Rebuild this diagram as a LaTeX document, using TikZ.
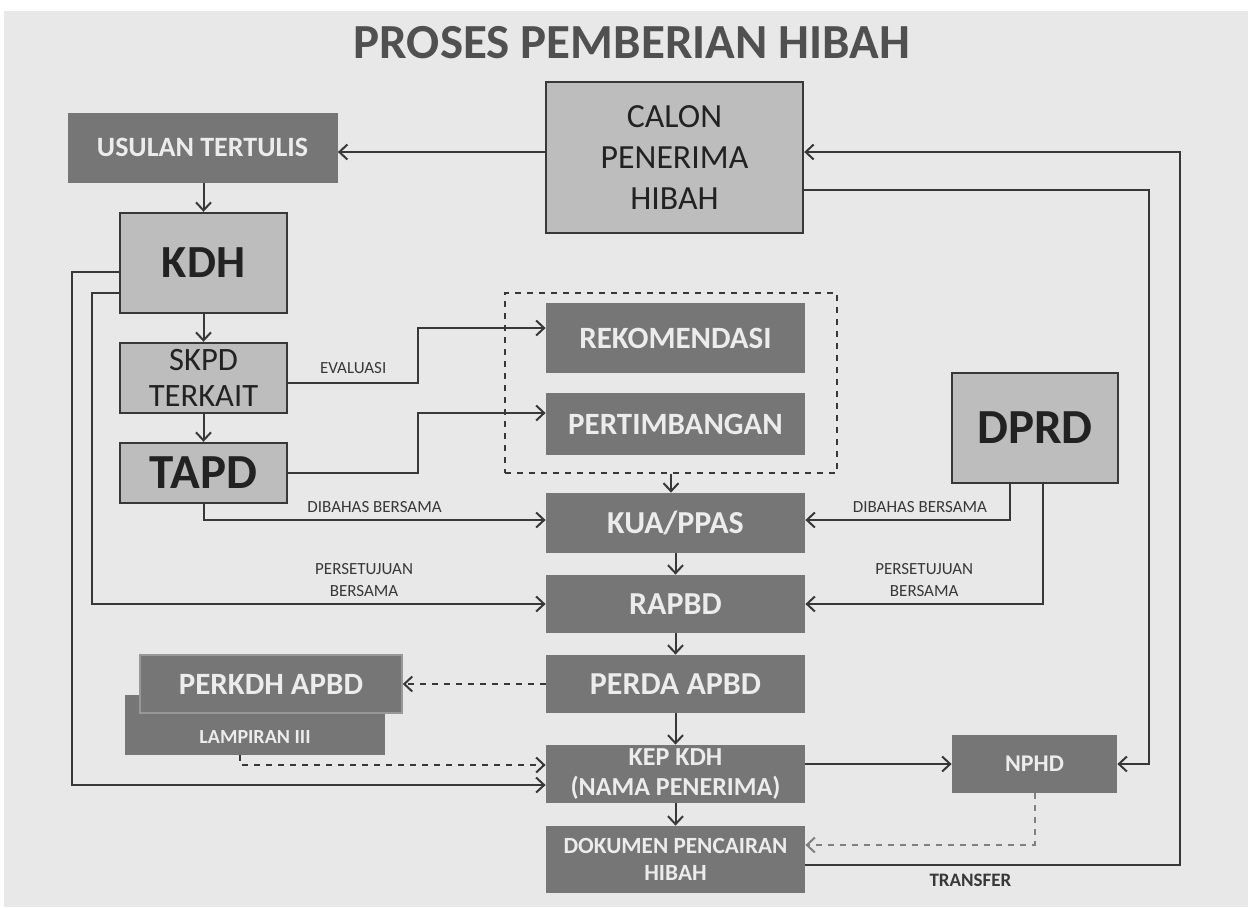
\documentclass[tikz,border=0pt]{standalone}
\usepackage{fontspec}
\setmainfont{Carlito}
\usetikzlibrary{arrows.meta}
\definecolor{bgcol}{HTML}{E8E8E8}
\definecolor{boxdark}{HTML}{767676}
\definecolor{boxlight}{HTML}{BDBDBD}
\definecolor{boxtext}{HTML}{ECECEC}
\definecolor{textdark}{HTML}{222222}
\definecolor{linecol}{HTML}{383838}
\definecolor{titlecol}{HTML}{505050}
\newcommand{\fsz}[2]{\fontsize{#1}{#2}\selectfont}
\tikzset{
  darkbox/.style={fill=boxdark, text=boxtext, inner sep=0pt, align=center},
  lightbox/.style={fill=boxlight, draw=linecol, line width=1.2pt, text=textdark, inner sep=0pt, align=center},
  sz/.style 2 args={minimum width=#1*0.5pt, minimum height=#2*0.5pt},
  link/.style={draw=linecol, line width=1pt, -{Straight Barb[length=4pt, width=7.5pt]}},
  dlink/.style={link, dashed},
  lbl/.style={font=\fsz{8.5}{11}, text=linecol, align=center, inner sep=1pt}
}

\begin{document}
\begin{tikzpicture}[x=0.5pt, y=-0.5pt]
\useasboundingbox (0,0) rectangle (1248,907);
\fill[white] (0,0) rectangle (1248,907);
\fill[bgcol] (4,11) rectangle (1248,907);
\node[font=\fsz{24.5}{27}\bfseries, text=titlecol] (title) at (632,43) {PROSES PEMBERIAN HIBAH};
% left column
\node[darkbox, sz={270}{70}, font=\fsz{14}{16}\bfseries] (usulan) at (202.5,147.5) {USULAN TERTULIS};
\node[lightbox, sz={167}{100}, font=\fsz{23}{25}\bfseries] (kdh) at (203.5,263) {KDH};
\node[lightbox, sz={167}{70}, font=\fsz{16.3}{18}] (skpd) at (203.5,378) {SKPD\\TERKAIT};
\node[lightbox, sz={167}{60}, font=\fsz{24.5}{26}\bfseries] (tapd) at (203.5,473) {TAPD};
\node[darkbox, sz={260}{60}, font=\fsz{10}{11}\bfseries, text height=18pt, text depth=0pt] (lampiran) at (255,725) {LAMPIRAN III};
\node[darkbox, sz={262}{58}, draw=boxdark!70!bgcol, line width=0.8pt, font=\fsz{15.5}{18}\bfseries] (perkdh) at (271,684) {PERKDH APBD};
% middle column
\node[lightbox, sz={257}{151}, font=\fsz{16.9}{20.5}] (calon) at (674.5,157.5) {CALON\\PENERIMA\\HIBAH};
\node[draw=linecol, dashed, line width=1pt, sz={332}{180}] (frame) at (671,383) {};
\node[darkbox, sz={259}{70}, font=\fsz{15.5}{18}\bfseries] (rekom) at (675.5,338) {REKOMENDASI};
\node[darkbox, sz={259}{62}, font=\fsz{15.5}{18}\bfseries] (pertim) at (675.5,424) {PERTIMBANGAN};
\node[darkbox, sz={259}{60}, font=\fsz{16}{18}\bfseries] (kua) at (675.5,523) {KUA/PPAS};
\node[darkbox, sz={259}{58}, font=\fsz{16}{18}\bfseries] (rapbd) at (675.5,604) {RAPBD};
\node[darkbox, sz={259}{58}, font=\fsz{16}{18}\bfseries] (perda) at (675.5,684) {PERDA APBD};
\node[darkbox, sz={259}{58}, font=\fsz{13}{15}\bfseries] (kep) at (675.5,774) {KEP KDH\\(NAMA PENERIMA)};
\node[darkbox, sz={259}{67}, font=\fsz{11.6}{13.5}\bfseries] (dokumen) at (675.5,859.5) {DOKUMEN PENCAIRAN\\HIBAH};
% right column
\node[lightbox, sz={166}{110}, font=\fsz{24.5}{26}\bfseries] (dprd) at (1035,428) {DPRD};
\node[darkbox, sz={165}{58}, font=\fsz{12}{14}\bfseries] (nphd) at (1034.5,764) {NPHD};

% connectors
\draw[link] ([yshift=2.75pt]calon.west) -- ([yshift=2.75pt]calon.west -| usulan.east);
\draw[link] (kdh.north |- usulan.south) -- (kdh.north);
\draw[link] (kdh.south) -- (skpd.north);
\draw[link] (skpd.south) -- (tapd.north);
\draw[link] ([yshift=-2.5pt]skpd.east) -- node[lbl, above=3pt]{EVALUASI} ++(130,0) |- ([yshift=5pt]rekom.west);
\draw[link] (tapd.east) -- ++(130,0) |- ([yshift=5.5pt]pertim.west);
\draw[link] (frame.south) -- (frame.south |- kua.north);
\draw[link] (tapd.south) |- node[lbl, pos=0.75, above=2pt]{DIBAHAS BERSAMA} ([yshift=1.5pt]kua.west);
\draw[link] ([yshift=-15pt]kdh.west) -- ++(-27,0) |- node[lbl, pos=0.8, above=2pt]{PERSETUJUAN\\BERSAMA} (rapbd.west);
\draw[link] ([yshift=-4.5pt]kdh.west) -- ++(-47,0) |- ([yshift=-5.5pt]kep.west);
\draw[link] ([xshift=-12.5pt]dprd.south) |- node[lbl, pos=0.72, above=2pt]{DIBAHAS BERSAMA} ([yshift=1.5pt]kua.east);
\draw[link] ([xshift=4pt]dprd.south) |- node[lbl, pos=0.75, above=2pt]{PERSETUJUAN\\BERSAMA} (rapbd.east);
\draw[link] (kua.south) -- (rapbd.north);
\draw[link] (rapbd.south) -- (perda.north);
\draw[link] (perda.south) -- (kep.north);
\draw[link] (kep.south) -- (dokumen.north);
\draw[dlink] (perda.west) -- (perkdh.east);
\draw[dlink] ([xshift=-7.5pt]lampiran.south) |- ([yshift=4.5pt]kep.west);
\draw[link] (kep.east |- nphd.west) -- (nphd.west);
\draw[link] ([yshift=-16.25pt]calon.east) -- ++(345,0) |- (nphd.east);
\draw[link] ([yshift=-2.75pt]dokumen.east) -- node[lbl, pos=0.44, below=3pt, font=\fsz{9.5}{11}\bfseries]{TRANSFER} ++(375,0) |- ([yshift=2.75pt]calon.east);
\draw[dlink, draw=gray] (nphd.south) |- ([yshift=7.25pt]dokumen.east);
\end{tikzpicture}
\end{document}
